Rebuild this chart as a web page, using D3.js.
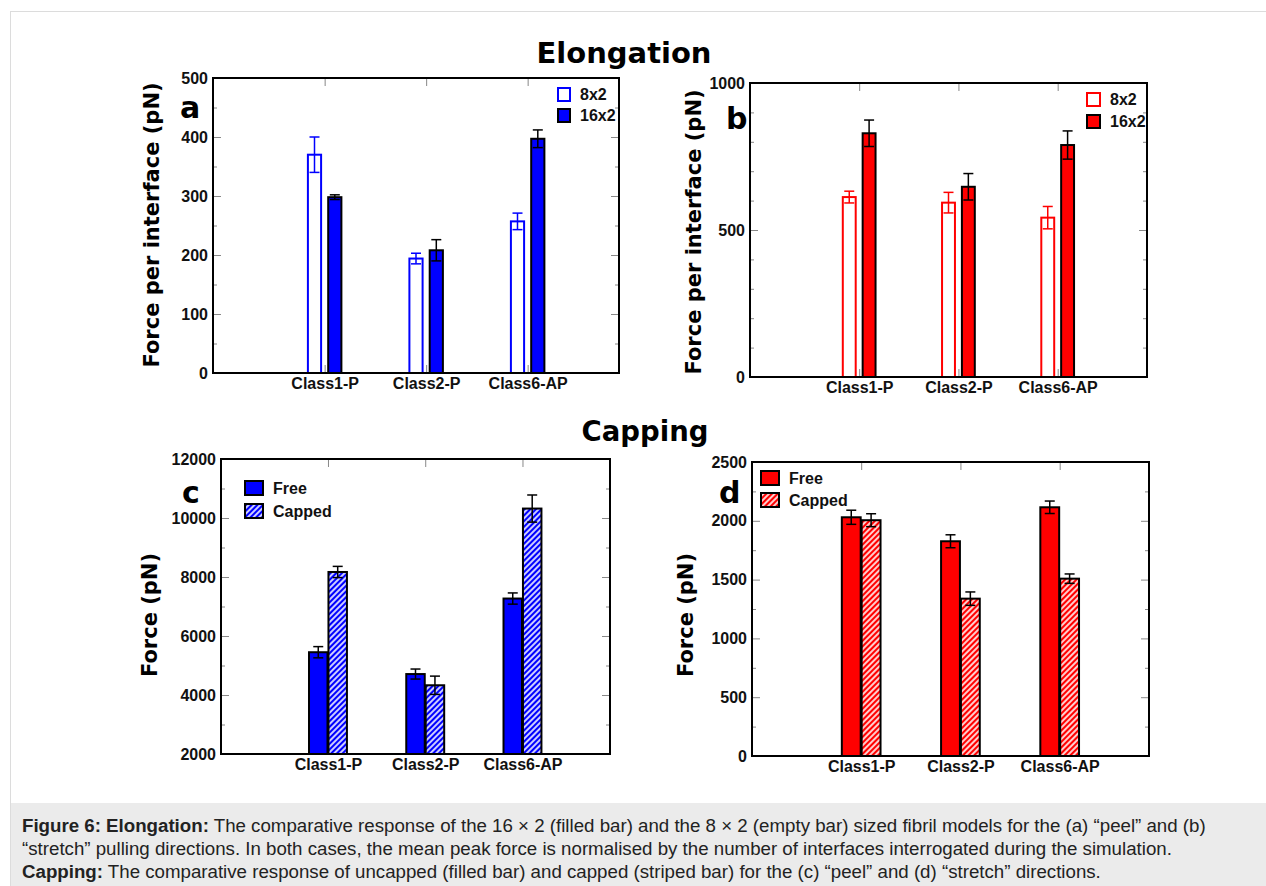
<!DOCTYPE html>
<html>
<head>
<meta charset="utf-8">
<script src="https://cdn.jsdelivr.net/npm/d3@7"></script>
<style>
  body { margin: 0; background: white; }
  svg { display: block; }
</style>
</head>
<body>
<svg id="fig"></svg>
<script>
// colors
const BLUE = '#0000ff';
const RED = '#ff0000';

// data
const categories = ['Class1-P', 'Class2-P', 'Class6-AP'];

// elongation, peel (a)
const peel8x2 = [370, 194, 257];
const peel8x2Err = [30, 9, 14];
const peel16x2 = [298, 208, 397];
const peel16x2Err = [4, 18, 15];

// elongation, stretch (b)
const stretch8x2 = [612, 593, 542];
const stretch8x2Err = [20, 35, 38];
const stretch16x2 = [829, 647, 789];
const stretch16x2Err = [45, 45, 48];

// capping, peel (c)
const peelFree = [5450, 4710, 7270];
const peelFreeErr = [190, 170, 190];
const peelCapped = [8170, 4330, 10320];
const peelCappedErr = [190, 310, 460];

// capping, stretch (d)
const stretchFree = [2030, 1826, 2115];
const stretchFreeErr = [60, 55, 53];
const stretchCapped = [2005, 1338, 1508];
const stretchCappedErr = [55, 57, 40];

const W = 1266, H = 886;
const svg = d3.select('#fig').attr('width', W).attr('height', H);

// hatch patterns
const defs = svg.append('defs');
[['hatch-blue', BLUE], ['hatch-red', RED]].forEach(([id, c]) => {
  const p = defs.append('pattern')
    .attr('id', id)
    .attr('patternUnits', 'userSpaceOnUse')
    .attr('width', 4).attr('height', 4)
    .attr('patternTransform', 'rotate(45)');
  p.append('rect').attr('width', 4).attr('height', 4).attr('fill', c);
  p.append('line').attr('x1', 1).attr('y1', 0).attr('x2', 1).attr('y2', 4)
    .attr('stroke', 'white').attr('stroke-width', 1.6);
});

// page frame + caption
svg.append('rect').attr('x', 10.5).attr('y', 11.5).attr('width', 1300).attr('height', 900)
  .attr('fill', 'none').attr('stroke', '#dcdcdc');
svg.append('rect').attr('x', 11).attr('y', 803).attr('width', W - 11).attr('height', H - 803)
  .attr('fill', '#ebebeb');

const FONT_SANS = 'DejaVu Sans, Verdana, sans-serif';
const FONT_HELV = 'Liberation Sans, Arial, Helvetica, sans-serif';

svg.append('text').attr('x', 624).attr('y', 63).attr('text-anchor', 'middle')
  .attr('font-family', FONT_SANS).attr('font-weight', 'bold').attr('font-size', 29)
  .text('Elongation');
svg.append('text').attr('x', 645).attr('y', 441).attr('text-anchor', 'middle')
  .attr('font-family', FONT_SANS).attr('font-weight', 'bold').attr('font-size', 27.5)
  .text('Capping');

// one panel
function drawPanel(cfg) {
  const g = svg.append('g');
  const x = d3.scaleLinear().domain([-1.1, 2.9]).range([cfg.left, cfg.right]);
  const y = d3.scaleLinear().domain(cfg.yDomain).range([cfg.bottom, cfg.top]);
  const majors = d3.range(cfg.yDomain[0], cfg.yDomain[1] + 1e-9, cfg.major);
  const minors = d3.range(cfg.yDomain[0], cfg.yDomain[1] + 1e-9, cfg.minor)
    .filter(v => majors.indexOf(v) < 0);

  const tickStyle = sel => {
    sel.select('.domain').remove();
    sel.selectAll('.tick line').attr('stroke', '#888').attr('stroke-width', 1);
    sel.selectAll('.tick text').attr('font-family', FONT_HELV).attr('font-weight', 'bold')
      .attr('font-size', 16).attr('fill', '#111');
  };

  // y axes (ticks inward)
  g.append('g').attr('transform', `translate(${cfg.left},0)`)
    .call(d3.axisLeft(y).tickValues(majors).tickSize(-8).tickPadding(5).tickFormat(d3.format('d')))
    .call(tickStyle);
  g.append('g').attr('transform', `translate(${cfg.left},0)`)
    .call(d3.axisLeft(y).tickValues(minors).tickSize(-4).tickFormat(''))
    .call(tickStyle);
  g.append('g').attr('transform', `translate(${cfg.right},0)`)
    .call(d3.axisRight(y).tickValues(majors).tickSize(-8).tickFormat(''))
    .call(tickStyle);
  g.append('g').attr('transform', `translate(${cfg.right},0)`)
    .call(d3.axisRight(y).tickValues(minors).tickSize(-4).tickFormat(''))
    .call(tickStyle);

  // x axes at categories
  g.append('g').attr('transform', `translate(0,${cfg.bottom})`)
    .call(d3.axisBottom(x).tickValues([0, 1, 2]).tickSize(-8).tickPadding(5)
      .tickFormat(i => categories[i]))
    .call(tickStyle);
  g.append('g').attr('transform', `translate(0,${cfg.top})`)
    .call(d3.axisTop(x).tickValues([0, 1, 2]).tickSize(-8).tickFormat(''))
    .call(tickStyle);

  // bars
  cfg.series.forEach(s => {
    const bw = x(cfg.barWidth) - x(0);
    const rows = s.values.map((v, i) => ({ i, v, e: s.err[i] }));
    const y0 = y(cfg.yDomain[0]);
    g.selectAll(null).data(rows).enter().append('rect')
      .attr('x', d => x(d.i + s.offset) - bw / 2)
      .attr('y', d => y(d.v))
      .attr('width', bw)
      .attr('height', d => y0 - y(d.v))
      .attr('fill', s.fill)
      .attr('stroke', s.stroke)
      .attr('stroke-width', 2);
    // error bars
    const eb = g.selectAll(null).data(rows).enter().append('g')
      .attr('stroke', s.errColor).attr('stroke-width', 1.5);
    eb.append('line')
      .attr('x1', d => x(d.i + s.offset)).attr('x2', d => x(d.i + s.offset))
      .attr('y1', d => y(d.v + d.e)).attr('y2', d => y(d.v - d.e));
    eb.append('line')
      .attr('x1', d => x(d.i + s.offset) - 5).attr('x2', d => x(d.i + s.offset) + 5)
      .attr('y1', d => y(d.v + d.e)).attr('y2', d => y(d.v + d.e));
    eb.append('line')
      .attr('x1', d => x(d.i + s.offset) - 5).attr('x2', d => x(d.i + s.offset) + 5)
      .attr('y1', d => y(d.v - d.e)).attr('y2', d => y(d.v - d.e));
  });

  // frame
  g.append('rect').attr('x', cfg.left).attr('y', cfg.top)
    .attr('width', cfg.right - cfg.left).attr('height', cfg.bottom - cfg.top)
    .attr('fill', 'none').attr('stroke', 'black').attr('stroke-width', 2);

  // legend
  cfg.series.forEach((s, k) => {
    const ly = cfg.legend.y + k * cfg.legend.step;
    g.append('rect').attr('x', cfg.legend.x).attr('y', ly)
      .attr('width', cfg.legend.w).attr('height', cfg.legend.h)
      .attr('fill', s.fill).attr('stroke', s.stroke).attr('stroke-width', 2);
    g.append('text').attr('x', cfg.legend.x + cfg.legend.w + 10).attr('y', ly + cfg.legend.h / 2)
      .attr('dominant-baseline', 'central')
      .attr('font-family', FONT_HELV).attr('font-weight', 'bold').attr('font-size', 16)
      .attr('fill', '#111').text(s.name);
  });

  // panel letter
  g.append('text').attr('x', cfg.letter[0]).attr('y', cfg.letter[1])
    .attr('font-family', FONT_SANS).attr('font-weight', 'bold').attr('font-size', 30)
    .text(cfg.letterText);

  // y title
  g.append('text')
    .attr('transform', `translate(${cfg.yTitle[0]},${cfg.yTitle[1]}) rotate(-90)`)
    .attr('text-anchor', 'middle').attr('dominant-baseline', 'central')
    .attr('font-family', FONT_SANS).attr('font-weight', 'bold').attr('font-size', 21)
    .text(cfg.yTitleText);
}

drawPanel({
  left: 213, right: 619, top: 78, bottom: 373,
  yDomain: [0, 500], major: 100, minor: 50, barWidth: 0.13,
  letterText: 'a', letter: [180, 118],
  yTitleText: 'Force per interface (pN)', yTitle: [152, 225],
  legend: { x: 558, y: 88, step: 21, w: 12, h: 13 },
  series: [
    { name: '8x2', values: peel8x2, err: peel8x2Err, offset: -0.1, fill: 'white', stroke: BLUE, errColor: BLUE },
    { name: '16x2', values: peel16x2, err: peel16x2Err, offset: 0.1, fill: BLUE, stroke: 'black', errColor: 'black' }
  ]
});

drawPanel({
  left: 750, right: 1147, top: 83, bottom: 377,
  yDomain: [0, 1000], major: 500, minor: 100, barWidth: 0.13,
  letterText: 'b', letter: [726, 129],
  yTitleText: 'Force per interface (pN)', yTitle: [694, 232],
  legend: { x: 1087, y: 93, step: 22, w: 13, h: 13 },
  series: [
    { name: '8x2', values: stretch8x2, err: stretch8x2Err, offset: -0.1, fill: 'white', stroke: RED, errColor: RED },
    { name: '16x2', values: stretch16x2, err: stretch16x2Err, offset: 0.1, fill: RED, stroke: 'black', errColor: 'black' }
  ]
});

drawPanel({
  left: 221, right: 610, top: 459, bottom: 754,
  yDomain: [2000, 12000], major: 2000, minor: 1000, barWidth: 0.19,
  letterText: 'c', letter: [182, 503],
  yTitleText: 'Force (pN)', yTitle: [150, 615],
  legend: { x: 245, y: 481, step: 23, w: 18, h: 14 },
  series: [
    { name: 'Free', values: peelFree, err: peelFreeErr, offset: -0.1, fill: BLUE, stroke: 'black', errColor: 'black' },
    { name: 'Capped', values: peelCapped, err: peelCappedErr, offset: 0.1, fill: 'url(#hatch-blue)', stroke: 'black', errColor: 'black' }
  ]
});

drawPanel({
  left: 752, right: 1149, top: 462, bottom: 756,
  yDomain: [0, 2500], major: 500, minor: 250, barWidth: 0.19,
  letterText: 'd', letter: [719, 503],
  yTitleText: 'Force (pN)', yTitle: [686, 615],
  legend: { x: 761, y: 471, step: 22, w: 18, h: 14 },
  series: [
    { name: 'Free', values: stretchFree, err: stretchFreeErr, offset: -0.1, fill: RED, stroke: 'black', errColor: 'black' },
    { name: 'Capped', values: stretchCapped, err: stretchCappedErr, offset: 0.1, fill: 'url(#hatch-red)', stroke: 'black', errColor: 'black' }
  ]
});

// caption
const captionLines = [
  [['Figure 6: Elongation:', true], [' The comparative response of the 16 \u00d7 2 (filled bar) and the 8 \u00d7 2 (empty bar) sized fibril models for the (a) \u201cpeel\u201d and (b)', false]],
  [['\u201cstretch\u201d pulling directions. In both cases, the mean peak force is normalised by the number of interfaces interrogated during the simulation.', false]],
  [['Capping:', true], [' The comparative response of uncapped (filled bar) and capped (striped bar) for the (c) \u201cpeel\u201d and (d) \u201cstretch\u201d directions.', false]]
];
captionLines.forEach((parts, i) => {
  const t = svg.append('text').attr('x', 22).attr('y', 832 + i * 23)
    .attr('font-family', FONT_HELV).attr('font-size', 18.7).attr('fill', '#222');
  parts.forEach(([s, b]) => t.append('tspan').attr('font-weight', b ? 'bold' : 'normal').text(s));
});
</script>
</body>
</html>
